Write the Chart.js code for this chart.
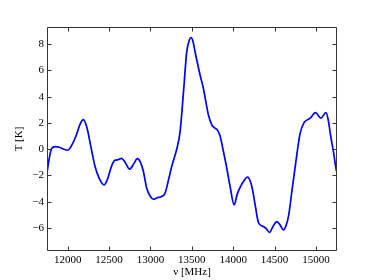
<!DOCTYPE html>
<html><head><meta charset="utf-8">
<script src="https://cdn.jsdelivr.net/npm/chart.js@4/dist/chart.umd.min.js"></script>
<style>html,body{margin:0;padding:0;background:#fff;}#c{display:block;}</style>
</head><body>
<div style="width:374px;height:280px;"><canvas id="c" width="374" height="280"></canvas></div>
<script>
const freq = [11750,11780,11806,11850,11900,11950,12000,12040,12100,12150,12190,12230,12280,12330,12380,12440,12480,12530,12570,12610,12650,12690,12750,12800,12840,12880,12915,12955,13000,13036,13080,13137,13177,13220,13258,13318,13358,13399,13439,13470,13491,13515,13540,13600,13641,13701,13742,13780,13810,13842,13880,13923,13963,14012,14050,14084,14130,14173,14226,14270,14306,14366,14400,14439,14480,14528,14570,14608,14640,14669,14710,14750,14810,14858,14931,14995,15060,15121,15150,15173,15215,15246,15258];
const temp = [-1.8,-0.6,0.05,0.2,0.15,0.0,-0.08,0.2,1.0,1.9,2.25,1.7,0.2,-1.3,-2.2,-2.72,-2.3,-1.3,-0.85,-0.8,-0.7,-0.95,-1.52,-1.1,-0.72,-1.0,-1.7,-2.97,-3.6,-3.81,-3.7,-3.6,-3.35,-2.3,-1.3,0.0,1.3,4.3,7.4,8.3,8.5,8.2,7.4,5.65,4.6,2.6,1.85,1.6,1.45,1.0,-0.1,-1.45,-2.84,-4.24,-3.4,-2.9,-2.4,-2.13,-2.84,-4.4,-5.6,-5.89,-6.05,-6.34,-5.9,-5.51,-5.8,-6.14,-5.8,-5.1,-3.2,-1.32,1.22,2.03,2.36,2.79,2.36,2.79,2.2,1.22,-0.3,-1.58,-1.75];
const xTicks = [12000,12500,13000,13500,14000,14500,15000];
const yTicks = [-6,-4,-2,0,2,4,6,8];
const xLabel = 'ν [MHz]';
const yLabel = 'T [K]';

const SERIF = '"Liberation Serif","DejaVu Serif",serif';

const framePlugin = {
  id: 'frame',
  afterDraw(chart) {
    const {ctx, chartArea: a, scales} = chart;
    ctx.save();
    ctx.strokeStyle = '#333';
    ctx.lineWidth = 1;
    const L = Math.round(a.left)+0.5, R = Math.round(a.right)-0.5, T = Math.round(a.top)+0.5, B = Math.round(a.bottom)-0.5;
    ctx.beginPath();
    ctx.rect(L, T, R-L, B-T);
    ctx.stroke();
    const tl = 4;
    ctx.beginPath();
    xTicks.forEach(v => {
      const px = Math.round(scales.x.getPixelForValue(v))+0.5;
      ctx.moveTo(px, B); ctx.lineTo(px, B-tl);
      ctx.moveTo(px, T); ctx.lineTo(px, T+tl);
    });
    yTicks.forEach(v => {
      const py = Math.round(scales.y.getPixelForValue(v))+0.5;
      ctx.moveTo(L, py); ctx.lineTo(L+tl, py);
      ctx.moveTo(R, py); ctx.lineTo(R-tl, py);
    });
    ctx.stroke();
    ctx.restore();
  }
};

new Chart(document.getElementById('c'), {
  type: 'line',
  data: {
    datasets: [{
      data: freq.map((f,i)=>({x:f, y:temp[i]})),
      borderColor: '#0000ff',
      borderWidth: 1.7,
      pointRadius: 0,
      cubicInterpolationMode: 'monotone',
      fill: false
    }]
  },
  options: {
    responsive: false,
    animation: false,
    devicePixelRatio: 1,
    layout: { padding: { left: 0, top: 27, right: 37, bottom: 0 } },
    plugins: { legend: {display:false}, tooltip: {enabled:false} },
    scales: {
      x: {
        type: 'linear', min: 11750, max: 15255,
        grid: { display: false, drawTicks: false },
        border: { display: false },
        afterBuildTicks: s => { s.ticks = xTicks.map(v=>({value:v})); },
        afterFit: s => { s.height = 29; },
        ticks: { padding: 3, color: '#000', font: { family: SERIF, size: 11 }, maxRotation: 0, callback: v => String(v) },
        title: { display: true, text: xLabel, color: '#000', font: { family: SERIF, size: 11 }, padding: { top: 0, bottom: 1 } }
      },
      y: {
        type: 'linear', min: -7.75, max: 9.3,
        grid: { display: false, drawTicks: false },
        border: { display: false },
        afterBuildTicks: s => { s.ticks = yTicks.map(v=>({value:v})); },
        afterFit: s => { s.width = 47; },
        ticks: { padding: 3, color: '#000', font: { family: SERIF, size: 11 }, callback: v => (v<0 ? '\u2212'+Math.abs(v) : String(v)) },
        title: { display: true, text: yLabel, color: '#000', font: { family: SERIF, size: 11 }, padding: { top: 13, bottom: 0 } }
      }
    }
  },
  plugins: [framePlugin]
});
</script>
</body></html>
